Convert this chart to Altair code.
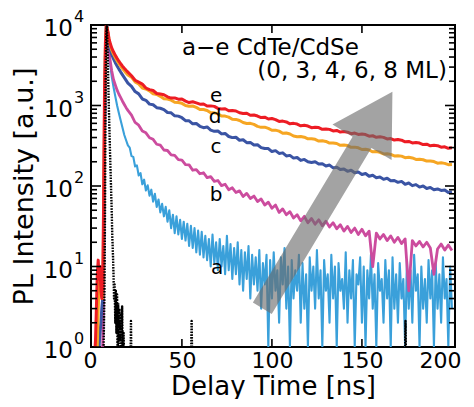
import altair as alt
import pandas as pd

FONT = "DejaVu Sans"
W, H = 364, 322

# ---------------- data ----------------
T_EARLY = [0, 1, 2, 3, 3.5, 4, 4.5, 5, 5.5, 6, 6.5, 7, 7.5, 8, 8.5, 9, 9.5, 10,
           11, 12, 13, 14, 15, 16, 17, 18, 19, 20]
T_TAIL = list(range(22, 201, 2))
T_A_TAIL = list(range(21, 201))

E_EARLY = [0.5, 0.5, 1.2, 8, 12, 7, 10, 5, 4, 6, 60, 1500, 6000, 9800, 9000, 8000, 6800, 6100,
           5200, 4650, 4200, 3850, 3550, 3300, 3080, 2900, 2740, 2600]
E_TAIL = [2340, 2060, 1950, 1845, 1650, 1575, 1535, 1410, 1390, 1360,
          1282, 1235, 1243, 1200, 1204, 1133, 1088, 1112, 1077, 1040,
          1044, 985, 989, 975, 920, 903, 912, 860, 868, 855,
          812, 795, 802, 755, 762, 740, 708, 716, 679, 690,
          668, 634, 640, 625, 592, 600, 588, 560, 568, 556,
          530, 538, 532, 506, 512, 505, 483, 490, 468, 474,
          466, 447, 455, 437, 442, 436, 416, 421, 403, 409,
          402, 384, 389, 372, 378, 371, 354, 358, 343, 348,
          342, 327, 331, 316, 321, 317, 303, 307, 294, 298]

D_EARLY = [0.5, 0.5, 0.5, 1, 3, 6, 8, 5, 7, 4, 30, 900, 5000, 9700, 9200, 7800, 6500, 5800,
           4900, 4350, 3950, 3600, 3320, 3080, 2880, 2700, 2540, 2400]
D_TAIL = [2250, 1960, 1850, 1650, 1605, 1520, 1395, 1370, 1300, 1212,
          1205, 1165, 1095, 1090, 1064, 1002, 978, 985, 948, 893,
          890, 868, 812, 810, 790, 740, 738, 718, 676, 672,
          652, 615, 598, 600, 582, 550, 535, 538, 520, 493,
          494, 480, 452, 455, 442, 418, 410, 412, 404, 385,
          386, 380, 362, 365, 358, 341, 343, 337, 320, 323,
          318, 302, 304, 298, 284, 286, 280, 266, 268, 262,
          250, 252, 247, 236, 238, 235, 225, 227, 223, 214,
          215, 212, 204, 205, 201, 192, 194, 191, 184, 185]

C_EARLY = [0.5, 0.5, 0.5, 0.5, 0.5, 1, 1.5, 2, 3, 4, 15, 500, 4000, 9500, 9000, 7500, 6100, 5200,
           4300, 3800, 3400, 3100, 2830, 2600, 2400, 2220, 2050, 1900]
C_TAIL = [1730, 1490, 1395, 1205, 1160, 1040, 1022, 940, 925, 890,
          818, 812, 745, 738, 705, 648, 645, 592, 598, 552,
          530, 541, 495, 478, 482, 444, 450, 412, 399, 403,
          370, 375, 345, 348, 323, 325, 300, 292, 292, 268,
          275, 254, 258, 236, 240, 222, 226, 208, 214, 200,
          196, 200, 187, 189, 177, 182, 168, 171, 160, 163,
          152, 157, 146, 149, 139, 143, 132, 136, 127, 129,
          121, 125, 116, 117, 111, 114, 105, 109, 101, 104,
          97, 100, 93, 96, 90, 92, 88, 89, 83, 85]

B_EARLY = [0.5, 0.5, 0.5, 0.5, 0.5, 0.5, 0.5, 0.5, 1, 1, 5, 300, 3000, 9000, 9500, 6500, 4800, 3800,
           2700, 2100, 1800, 1550, 1380, 1250, 1130, 1030, 940, 870]
B_TAIL = [760, 615, 570, 482, 458, 398, 380, 330, 322, 280,
          276, 244, 240, 212, 210, 184, 183, 157, 160, 142,
          146, 127, 131, 114, 117, 101, 105, 90, 95, 83,
          87, 74, 81, 70, 75, 64, 69, 58, 63, 53,
          58, 47, 52, 44, 48, 40, 44, 37, 42, 35,
          39.5, 33.5, 38, 32, 36.5, 31, 35, 29.5, 33, 27.5,
          31.5, 26.5, 30, 25, 29, 24, 27.5, 10, 26, 22,
          25, 21, 24, 20, 23, 19.3, 22, 5, 21, 18,
          20.5, 17.5, 20, 17, 8, 16.5, 19, 16, 18.5, 15.8]

A_EARLY = [0.5, 0.5, 0.5, 0.5, 0.5, 0.5, 0.5, 0.5, 0.5, 1, 2, 50, 1500, 8000, 10000, 7000, 4800, 3500,
           2300, 1700, 1300, 1000, 800, 650, 530, 430, 370, 320]
A_TAIL = [300, 235, 230, 175, 180, 135, 145, 105, 120, 88, 102, 76, 90, 64, 80, 55, 68, 47, 60, 42,
          55, 36, 50, 30, 44, 26, 42, 25, 38, 22, 36, 21, 34, 18, 32, 17, 30, 15, 28, 14,
          27, 13, 24, 12, 22, 10, 25, 11, 20, 9, 22, 10, 18, 8, 24, 9, 19, 7, 17, 8,
          20, 6, 16, 5, 15, 7, 18, 4, 14, 6,
          13, 5, 16, 3, 11, 6, 14, 1, 12, 4, 15, 5, 9, 2, 13, 6, 17, 3, 10, 1,
          12, 4, 9, 5, 14, 2, 11, 3, 8, 1, 13, 5, 10, 3, 16, 4, 9, 1, 12, 5,
          8, 2, 14, 4, 10, 1, 11, 5, 7, 3, 15, 2, 9, 4, 12, 1, 8, 6, 13, 2,
          10, 1, 9, 4, 14, 3, 8, 1, 11, 5, 7, 2, 12, 4, 9, 1, 13, 3, 8, 2,
          11, 4, 7, 1, 12, 3, 9, 2, 14, 5, 8, 1, 10, 3, 7, 2, 12, 4, 9, 1,
          11, 3, 8, 2, 13, 4, 7, 1, 10, 3]

IRF_T = [0, 6, 6.5, 7, 7.3, 7.6, 8, 8.3, 8.6, 9, 9.3, 9.6, 10, 10.5, 11, 11.3, 11.7, 12, 12.3, 12.6,
         13, 13.3, 13.6, 14, 14.3, 14.6, 15, 15.3, 15.6, 16, 16.4, 16.8, 17.2, 17.6, 18, 21.4, 21.7,
         22, 55, 55.4, 55.8, 173.8, 174.2, 174.6, 200]
IRF_V = [0.5, 0.5, 1, 5, 60, 1500, 8000, 10000, 6000, 2500, 1200, 660, 300, 120, 50, 25, 14, 8, 4, 6,
         2, 5, 1.5, 4.5, 0.5, 3.5, 0.5, 3, 1.2, 2.5, 0.5, 3.2, 0.5, 1.5, 0.5, 0.5, 2.1,
         0.5, 0.5, 2.1, 0.5, 0.5, 2.1, 0.5, 0.5]

COLORS = {"a": "#3AA0DA", "b": "#CC4C9E", "c": "#3A54A4", "d": "#F6A623", "e": "#ED1C24"}

LABELS = ["a", "b", "c", "d", "e"]
LABEL_T = [69.5, 69, 69, 68.5, 69]
LABEL_V = [9.6, 77, 305, 719, 1313]

NOTE_1, NOTE_1_T, NOTE_1_V = "a\u2212e CdTe/CdSe", 50, 5180
NOTE_2, NOTE_2_T, NOTE_2_V = "(0, 3, 4, 6, 8 ML)", 197.2, 2683

ARROW_T, ARROW_V = [130.8], [67]

X_TICKS = [50, 100, 150]
Y_MAJOR = [1, 10, 100, 1000, 10000]
Y_EXP = ["0", "1", "2", "3", "4"]
Y_MINOR = [m * 10 ** k for k in range(4) for m in range(2, 10)]

# ---------------- scales / axes ----------------
xs = alt.Scale(domain=[-0.5, 201.7], nice=False, zero=False)
ys = alt.Scale(type="log", domain=[1, 10000], nice=False)

x_axis = alt.Axis(values=[0, 50, 100, 150, 200], format="d", ticks=False, tickSize=0,
                  domain=False, grid=False, labelFontSize=22, labelFont=FONT,
                  labelColor="black", labelPadding=3, labelFlush=6, labelFlushOffset=9,
                  labelOverlap=False,
                  title="Delay Time [ns]", titleFont=FONT, titleFontSize=26,
                  titleFontWeight="normal", titleColor="black", titleX=182, titleY=39,
                  titleBaseline="middle", titleAlign="center")
y_axis = alt.Axis(labels=False, ticks=False, domain=False, grid=False,
                  title="PL Intensity [a.u.]", titleFont=FONT, titleFontSize=27,
                  titleFontWeight="normal", titleColor="black", titleX=-67, titleY=161,
                  titleAngle=270, titleAlign="center", titleBaseline="middle")

X = lambda: alt.X("t:Q", scale=xs, axis=x_axis)
Y = lambda: alt.Y("v:Q", scale=ys, axis=y_axis)


def curve(t, v, color, width=3.0, dash=None):
    df = pd.DataFrame({"t": t, "v": v})
    kw = dict(color=color, strokeWidth=width, clip=True, strokeJoin="round")
    if dash:
        kw["strokeDash"] = dash
        kw["strokeCap"] = "butt"
    return alt.Chart(df).mark_line(**kw).encode(x=X(), y=Y())


layers = [
    curve(T_EARLY + T_A_TAIL, A_EARLY + A_TAIL, COLORS["a"], 2.1),
    curve(T_EARLY + T_TAIL, B_EARLY + B_TAIL, COLORS["b"], 2.8),
    curve(T_EARLY + T_TAIL, C_EARLY + C_TAIL, COLORS["c"]),
    curve(T_EARLY + T_TAIL, D_EARLY + D_TAIL, COLORS["d"]),
    curve(T_EARLY + T_TAIL, E_EARLY + E_TAIL, COLORS["e"]),
    curve(IRF_T, IRF_V, "black", 2.4, [1.6, 1.2]),
]

ARROW_PATH = ("M -0.087,1 L -0.087,-0.533 L -0.273,-0.533 L 0,-1 "
              "L 0.273,-0.533 L 0.087,-0.533 L 0.087,1 Z")
arrow = alt.Chart(pd.DataFrame({"t": ARROW_T, "v": ARROW_V})).mark_point(
    shape=ARROW_PATH, size=63807, angle=31, filled=True, color="#6b6b6b",
    opacity=0.62, strokeWidth=0).encode(x=X(), y=Y())
layers.append(arrow)

lab_df = pd.DataFrame({"t": LABEL_T, "v": LABEL_V, "s": LABELS})
layers.append(alt.Chart(lab_df).mark_text(fontSize=20, font=FONT, color="black",
                                          align="center", baseline="middle")
              .encode(x=X(), y=Y(), text="s:N"))

layers.append(alt.Chart(pd.DataFrame({"t": [NOTE_1_T], "v": [NOTE_1_V], "s": [NOTE_1]}))
              .mark_text(fontSize=23, font=FONT, color="black", align="left", baseline="middle")
              .encode(x=X(), y=Y(), text="s:N"))
layers.append(alt.Chart(pd.DataFrame({"t": [NOTE_2_T], "v": [NOTE_2_V], "s": [NOTE_2]}))
              .mark_text(fontSize=23, font=FONT, color="black", align="right", baseline="middle")
              .encode(x=X(), y=Y(), text="s:N"))

# inward ticks
ymaj = pd.DataFrame({"v": Y_MAJOR})
ymin = pd.DataFrame({"v": Y_MINOR})
xt = pd.DataFrame({"t": X_TICKS})
tick = dict(color="black", strokeWidth=1.6)
layers += [
    alt.Chart(ymaj).mark_rule(**tick).encode(y=Y(), x=alt.value(0), x2=alt.value(10)),
    alt.Chart(ymin).mark_rule(**tick).encode(y=Y(), x=alt.value(0), x2=alt.value(6)),
    alt.Chart(ymaj).mark_rule(**tick).encode(y=Y(), x=alt.value(W - 10), x2=alt.value(W)),
    alt.Chart(ymin).mark_rule(**tick).encode(y=Y(), x=alt.value(W - 6), x2=alt.value(W)),
    alt.Chart(xt).mark_rule(**tick).encode(x=X(), y=alt.value(H - 8), y2=alt.value(H)),
    alt.Chart(xt).mark_rule(**tick).encode(x=X(), y=alt.value(0), y2=alt.value(8)),
]

# y tick labels 10^n
ylab = pd.DataFrame({"v": Y_MAJOR, "e": Y_EXP})
layers.append(alt.Chart(ylab).mark_text(text="10", align="right", baseline="middle", dy=4,
                                        fontSize=23, font=FONT, color="black")
              .encode(x=alt.value(-18), y=Y()))
layers.append(alt.Chart(ylab).mark_text(align="left", baseline="middle", dy=-8,
                                        fontSize=16, font=FONT, color="black")
              .encode(x=alt.value(-17), y=Y(), text="e:N"))

chart = alt.layer(*layers).properties(
    width=W, height=H,
    padding={"left": 83, "top": 17, "right": 11, "bottom": 52},
    autosize=alt.AutoSizeParams(type="none"),
).configure_view(stroke="black", strokeWidth=2)

chart.save("out.html", embed_options={"renderer": "svg", "actions": False})
